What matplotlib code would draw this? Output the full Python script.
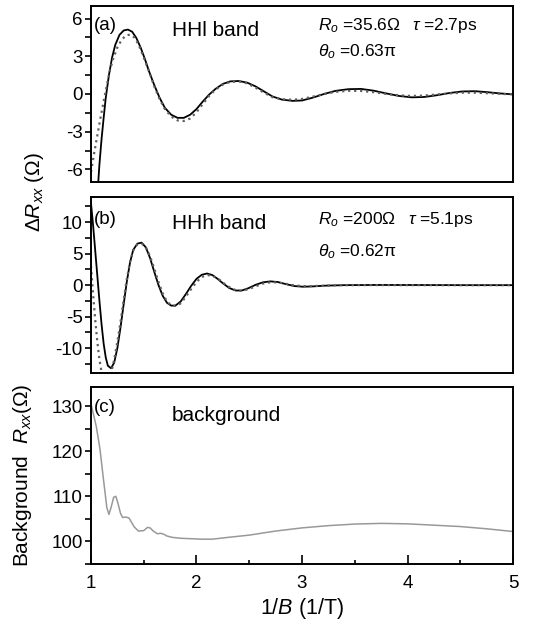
import numpy as np
import matplotlib
matplotlib.use("Agg")
import matplotlib.pyplot as plt
from matplotlib.ticker import MultipleLocator

plt.rcParams['font.family'] = ['Liberation Sans', 'DejaVu Sans']
plt.rcParams['mathtext.fontset'] = 'custom'
plt.rcParams['mathtext.rm'] = 'Liberation Sans'
plt.rcParams['mathtext.it'] = 'Liberation Sans:italic'
plt.rcParams['axes.unicode_minus'] = False

# panel (a) HHl band: measured (solid) and fit (dotted)
hhl_x = [1.065, 1.08, 1.10, 1.12, 1.14, 1.17, 1.20, 1.23, 1.27, 1.31, 1.35, 1.39, 1.43, 1.47,
         1.51, 1.55, 1.60, 1.65, 1.70, 1.76, 1.82, 1.88, 1.94, 2.00, 2.06, 2.12, 2.18, 2.25,
         2.32, 2.40, 2.48, 2.56, 2.64, 2.72, 2.81, 2.91, 3.00, 3.10, 3.21, 3.32, 3.44, 3.56,
         3.68, 3.80, 3.92, 4.04, 4.16, 4.28, 4.40, 4.52, 4.64, 4.76, 4.88, 5.00]
hhl_data = [-7.5, -5.6, -3.6, -1.9, -0.3, 1.5, 2.9, 3.9, 4.7, 5.05, 5.12, 4.95, 4.45, 3.7,
            2.8, 1.8, 0.7, -0.3, -1.1, -1.65, -1.9, -1.9, -1.65, -1.2, -0.6, -0.05, 0.4, 0.8,
            1.0, 1.03, 0.9, 0.6, 0.2, -0.2, -0.45, -0.55, -0.52, -0.3, 0.0, 0.25, 0.38, 0.4,
            0.26, 0.04, -0.16, -0.27, -0.24, -0.1, 0.08, 0.2, 0.22, 0.14, 0.04, -0.03]
hhl_fit_x = [1.0, 1.03, 1.06, 1.09, 1.12, 1.15, 1.18, 1.21, 1.25, 1.29, 1.33, 1.37, 1.41, 1.45,
             1.50, 1.55, 1.60, 1.65, 1.70, 1.76, 1.82, 1.88, 1.94, 2.00, 2.06, 2.12, 2.18, 2.25,
             2.32, 2.40, 2.48, 2.56, 2.64, 2.72, 2.81, 2.91, 3.00, 3.10, 3.21, 3.32, 3.44, 3.56,
             3.68, 3.80, 3.92, 4.04, 4.16, 4.28, 4.40, 4.52, 4.64, 4.76, 4.88, 5.00]
hhl_fit = [-6.2, -4.7, -3.3, -1.9, -0.6, 0.7, 1.9, 2.8, 3.7, 4.3, 4.65, 4.72, 4.5, 3.95,
           2.9, 1.8, 0.6, -0.4, -1.2, -1.8, -2.1, -2.15, -1.95, -1.45, -0.8, -0.15, 0.35, 0.75,
           0.95, 1.0, 0.85, 0.5, 0.1, -0.25, -0.42, -0.46, -0.4, -0.22, 0.0, 0.17, 0.25, 0.24,
           0.14, 0.0, -0.11, -0.16, -0.13, -0.04, 0.05, 0.1, 0.1, 0.06, 0.01, -0.03]

# panel (b) HHh band
hhh_x = [1.0, 1.02, 1.04, 1.06, 1.08, 1.10, 1.12, 1.14, 1.16, 1.19, 1.22, 1.25, 1.28, 1.31,
         1.34, 1.37, 1.40, 1.44, 1.48, 1.52, 1.56, 1.60, 1.64, 1.68, 1.72, 1.76, 1.80, 1.85,
         1.90, 1.95, 2.00, 2.05, 2.10, 2.15, 2.20, 2.25, 2.31, 2.37, 2.43, 2.49, 2.56, 2.63,
         2.70, 2.77, 2.85, 2.93, 3.01, 3.10, 3.22, 3.40, 3.70, 4.10, 4.50, 5.00]
hhh_data = [13.0, 9.5, 5.5, 1.5, -2.5, -6.2, -9.3, -11.5, -12.8, -13.2, -12.3, -10.0, -6.7, -3.0,
            0.6, 3.6, 5.6, 6.6, 6.75, 6.0, 4.3, 2.1, 0.0, -1.7, -2.8, -3.25, -3.25, -2.6,
            -1.4, -0.1, 1.0, 1.65, 1.85, 1.6, 1.0, 0.3, -0.45, -0.85, -0.85, -0.5, 0.05, 0.45,
            0.6, 0.5, 0.15, -0.15, -0.25, -0.2, -0.08, 0.0, 0.03, 0.02, 0.0, 0.0]
hhh_fit = [3.0, -1.5, -5.5, -9.0, -11.8, -13.8, -15.2, -15.3, -15.0, -14.0, -11.8, -9.0, -5.8, -2.3,
           1.0, 3.7, 5.5, 6.5, 6.6, 6.0, 4.6, 2.6, 0.5, -1.3, -2.6, -3.2, -3.3, -2.9,
           -1.8, -0.6, 0.5, 1.3, 1.6, 1.5, 1.1, 0.4, -0.3, -0.8, -0.9, -0.65, -0.2, 0.25,
           0.45, 0.45, 0.2, -0.05, -0.15, -0.15, -0.08, 0.0, 0.01, 0.0, 0.0, 0.0]

# panel (c) background resistance
bg_x = [1.0, 1.02, 1.05, 1.085, 1.117, 1.15, 1.17, 1.19, 1.215, 1.235, 1.255, 1.28, 1.30, 1.33,
        1.36, 1.385, 1.41, 1.45, 1.50, 1.535, 1.56, 1.59, 1.63, 1.66, 1.69, 1.72, 1.77, 1.85,
        1.95, 2.05, 2.15, 2.3, 2.5, 2.75, 3.0, 3.25, 3.5, 3.75, 4.0, 4.25, 4.5, 4.75, 5.0]
bg_r = [130.5, 128.5, 125.5, 120.5, 114.0, 107.5, 106.0, 107.5, 109.8, 110.0, 108.5, 106.2, 105.3, 105.4,
        105.2, 104.2, 103.2, 102.3, 102.4, 103.1, 103.0, 102.3, 101.7, 101.8, 101.6, 101.2, 100.9, 100.7,
        100.6, 100.5, 100.5, 100.9, 101.4, 102.3, 103.0, 103.5, 103.85, 104.0, 103.9, 103.6, 103.3, 102.8, 102.2]


def style_axis(ax, ylim, major, minor, show_x=False):
    ax.set_xlim(1, 5)
    ax.set_ylim(*ylim)
    ax.yaxis.set_major_locator(MultipleLocator(major))
    ax.yaxis.set_minor_locator(MultipleLocator(minor))
    ax.xaxis.set_major_locator(MultipleLocator(1))
    ax.xaxis.set_minor_locator(MultipleLocator(0.5))
    for spine in ax.spines.values():
        spine.set_linewidth(1.4)
    ax.tick_params(axis='y', which='both', direction='out', length=4, width=1.2,
                   labelsize=13.5, pad=2, right=False)
    ax.tick_params(axis='x', which='major', direction='in', length=6.5, width=1.2,
                   labelsize=13.5, pad=8, top=False)
    ax.tick_params(axis='x', which='minor', direction='in', length=3, width=1.2, top=False)
    if not show_x:
        ax.tick_params(axis='x', which='both', bottom=False, labelbottom=False)


def main():
    fig = plt.figure(figsize=(5.34, 6.31), dpi=100)
    left, width = 0.1704, 0.7903
    ax_a = fig.add_axes([left, 0.7116, width, 0.2790])
    ax_b = fig.add_axes([left, 0.4084, width, 0.2794])
    ax_c = fig.add_axes([left, 0.1062, width, 0.2810])

    # (a)
    ax_a.plot(hhl_x, hhl_data, color='black', lw=1.3)
    ax_a.plot(hhl_fit_x, hhl_fit, color='#606060', lw=1.6, ls=(0, (1, 1.7)))
    style_axis(ax_a, (-7, 7), 3, 1.5)
    ax_a.text(0.008, 0.89, '(a)', transform=ax_a.transAxes, fontsize=13.5, va='center')
    ax_a.text(0.191, 0.863, 'HHl band', transform=ax_a.transAxes, fontsize=15, va='center')
    ax_a.text(0.539, 0.889, r'$R_{\mathit{o}}$ =35.6Ω', transform=ax_a.transAxes, fontsize=12.5, va='center')
    ax_a.text(0.760, 0.889, r'$\tau$ =2.7ps', transform=ax_a.transAxes, fontsize=12.5, va='center')
    ax_a.text(0.539, 0.738, r'$\theta_{\mathit{o}}$ =0.63π', transform=ax_a.transAxes, fontsize=12.5, va='center')

    # (b)
    ax_b.plot(hhh_x, hhh_data, color='black', lw=1.3)
    ax_b.plot(hhh_x, hhh_fit, color='#606060', lw=1.6, ls=(0, (1, 1.7)))
    style_axis(ax_b, (-14, 14), 5, 2.5)
    ax_b.text(0.008, 0.875, '(b)', transform=ax_b.transAxes, fontsize=13.5, va='center')
    ax_b.text(0.191, 0.851, 'HHh band', transform=ax_b.transAxes, fontsize=15, va='center')
    ax_b.text(0.539, 0.87, r'$R_{\mathit{o}}$ =200Ω', transform=ax_b.transAxes, fontsize=12.5, va='center')
    ax_b.text(0.751, 0.87, r'$\tau$ =5.1ps', transform=ax_b.transAxes, fontsize=12.5, va='center')
    ax_b.text(0.539, 0.69, r'$\theta_{\mathit{o}}$ =0.62π', transform=ax_b.transAxes, fontsize=12.5, va='center')

    # (c)
    ax_c.plot(bg_x, bg_r, color='#999999', lw=1.1)
    style_axis(ax_c, (95, 134.3), 10, 5, show_x=True)
    ax_c.text(0.008, 0.885, '(c)', transform=ax_c.transAxes, fontsize=13.5, va='center')
    ax_c.text(0.191, 0.835, 'background', transform=ax_c.transAxes, fontsize=15, va='center')
    ax_c.set_xlabel(r'1/$B$ (1/T)', fontsize=15.5, labelpad=3)

    fig.text(34 / 534, 1 - 192 / 631, r'$\Delta R_{xx}$ (Ω)', rotation=90,
             fontsize=15, ha='center', va='center')
    fig.text(23 / 534, 1 - 475 / 631, r'Background  $R_{xx}$(Ω)', rotation=90,
             fontsize=15, ha='center', va='center')

    fig.savefig('out.png', dpi=100)


if __name__ == '__main__':
    main()
